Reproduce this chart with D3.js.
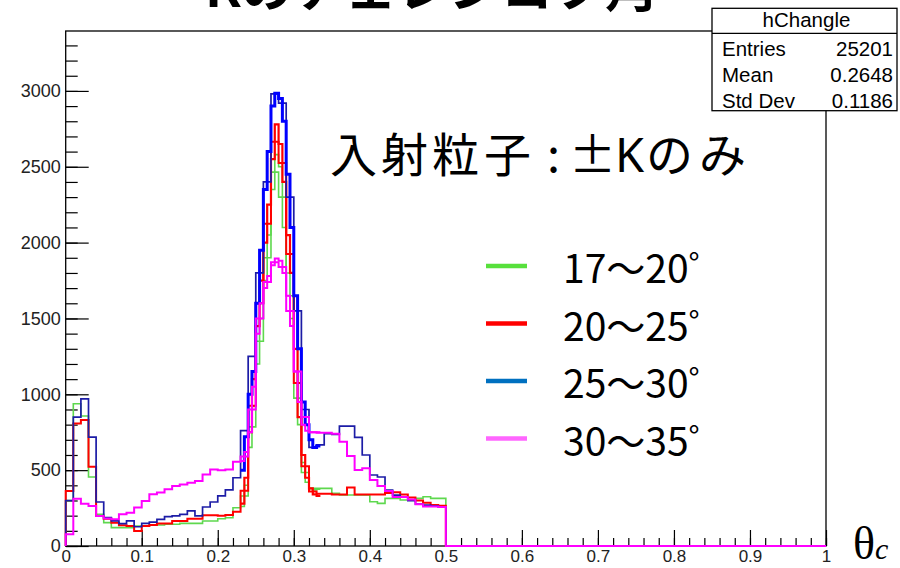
<!DOCTYPE html>
<html><head><meta charset="utf-8">
<script src="https://cdn.jsdelivr.net/npm/d3@7"></script>
<style>html,body{margin:0;padding:0;background:#fff;} svg{display:block}</style>
</head><body>
<svg id="c" width="900" height="568"></svg>
<script>
// ---------------- data ----------------
const xMax = 1;
const yMax = 3395;
const xTickLabels = [0, 0.1, 0.2, 0.3, 0.4, 0.5, 0.6, 0.7, 0.8, 0.9, 1];
const yTickLabels = [0, 500, 1000, 1500, 2000, 2500, 3000];

// coarse histograms: bins of width 0.01 starting at 0 (bins 0.50-1.00 are empty)
const coarseBinWidth = 0.01;
const green17_20 = [300, 938, 857, 455, 209, 154, 121, 121, 121, 132,
  132, 138, 138, 143, 143, 149, 149, 149, 165, 165,
  180, 186, 252, 330, 785, 1350, 1900, 2465, 2300, 1650,
  975, 485, 380, 380, 380, 347, 336, 336, 336, 336,
  292, 281, 314, 314, 303, 303, 314, 325, 314, 314];
const red20_25 = [362, 808, 830, 523, 198, 180, 154, 136, 132, 99,
  132, 138, 149, 149, 165, 165, 180, 180, 202, 202,
  200, 205, 225, 365, 925, 1600, 2125, 2665, 2525, 1925,
  1075, 525, 360, 345, 345, 340, 340, 385, 340, 340,
  340, 340, 350, 355, 340, 320, 300, 285, 270, 265];
const navy25_30 = [300, 850, 970, 718, 290, 187, 165, 147, 165, 127,
  149, 158, 176, 193, 198, 209, 231, 198, 257, 290,
  330, 370, 450, 760, 1250, 1800, 2400, 2980, 2920, 2300,
  1550, 900, 650, 666, 740, 735, 790, 790, 716, 600,
  468, 455, 369, 336, 323, 299, 277, 270, 264, 257];
const magenta30_35 = [77, 312, 279, 264, 198, 182, 176, 209, 220, 253,
  297, 341, 352, 374, 395, 406, 417, 428, 472, 505,
  500, 505, 556, 590, 900, 1500, 1740, 1870, 1840, 1550,
  1150, 850, 750, 747, 747, 740, 688, 593, 501, 512,
  435, 395, 362, 323, 323, 306, 275, 260, 260, 257];

// fine overlays in the peak region: bins of width 0.005 starting at 0.23
const fineStart = 0.23, fineBinWidth = 0.005;
const greenFine = [260, 400, 650, 920, 1200, 1500, 1750, 2050, 2350, 2580, 2500,
  2100, 1800, 1500, 1150, 800, 550, 420, 380, 370, 375];
const redFine = [280, 450, 750, 1100, 1450, 1750, 2000, 2250, 2550, 2780, 2650,
  2400, 2050, 1800, 1300, 850, 600, 450, 380, 340, 330];
const blueFine = [500, 720, 1000, 1150, 1600, 1950, 2350, 2600, 2900, 2985, 2950,
  2800, 2450, 2100, 1650, 1300, 950, 800, 700, 650, 660];
const magentaFine = [560, 620, 750, 1050, 1400, 1600, 1700, 1780, 1850, 1895, 1880,
  1800, 1650, 1450, 1150, 950, 800, 760, 750, 750, 750];

const legendLabels = ["17〜20", "20〜25", "25〜30", "30〜35"];
const legendColors = ["#57e03c", "#ff0000", "#0070c0", "#ff66ff"];

const statsName = "hChangle";
const statsRows = [["Entries", "25201"], ["Mean", "0.2648"], ["Std Dev", "0.1186"]];

const titleText = "Kのチェレンコフ角";
const noteChars = ["入", "射", "粒", "子", ":", "±", "K", "の", "み"];

// ---------------- drawing ----------------
const svg = d3.select("#c");
const frame = {l: 65.7, r: 826, t: 31, b: 546};
const x = d3.scaleLinear().domain([0, xMax]).range([frame.l, frame.r]);
const y = d3.scaleLinear().domain([0, yMax]).range([frame.b, frame.t]);
const rootFont = "'Liberation Sans', Arial, Helvetica, sans-serif";

// title (cut off at top of the slide)
svg.append("text").attr("x", 205).attr("y", 7)
  .attr("font-family", "'Noto Sans CJK JP'").attr("font-size", 52).attr("font-weight", 700)
  .attr("fill", "#000").text(titleText);

// frame
svg.append("rect").attr("x", frame.l).attr("y", frame.t)
  .attr("width", frame.r - frame.l).attr("height", frame.b - frame.t)
  .attr("fill", "none").attr("stroke", "#000").attr("stroke-width", 1.3);

// y axis
const yMinorTicks = d3.range(0, 3400, 100);
const gyMinor = svg.append("g").attr("transform", `translate(${frame.l},0)`)
  .call(d3.axisLeft(y).tickValues(yMinorTicks).tickSize(-12).tickFormat(""));
const gy = svg.append("g").attr("transform", `translate(${frame.l},0)`)
  .call(d3.axisLeft(y).tickValues(yTickLabels).tickSize(-23).tickPadding(5).tickFormat(d => String(d)));
// x axis
const xMinorTicks = d3.range(0, 1.0001, 0.02);
const gxMinor = svg.append("g").attr("transform", `translate(0,${frame.b})`)
  .call(d3.axisBottom(x).tickValues(xMinorTicks).tickSize(-8).tickFormat(""));
const gx = svg.append("g").attr("transform", `translate(0,${frame.b})`)
  .call(d3.axisBottom(x).tickValues(xTickLabels).tickSize(-16).tickPadding(4).tickFormat(d => String(d)));
[gyMinor, gy, gxMinor, gx].forEach(g => {
  g.select(".domain").remove();
  g.selectAll(".tick line").attr("stroke", "#000").attr("stroke-width", 1.2);
  g.selectAll("text").attr("font-family", rootFont).attr("font-size", 18).attr("fill", "#222");
});
gx.selectAll("text").attr("font-size", 17);

// histograms
const line = d3.line().x(d => x(d[0])).y(d => y(d[1]));
function coarsePts(vals) {
  const pts = [[0, 0]];
  vals.forEach((v, i) => { pts.push([i * coarseBinWidth, v]); pts.push([(i + 1) * coarseBinWidth, v]); });
  pts.push([vals.length * coarseBinWidth, 0]);
  pts.push([xMax, 0]);
  return pts;
}
function finePts(vals) {
  const pts = [];
  vals.forEach((v, i) => { pts.push([fineStart + i * fineBinWidth, v]); pts.push([fineStart + (i + 1) * fineBinWidth, v]); });
  return pts;
}
const hists = [
  {pts: coarsePts(green17_20), c: "#5ed84e", w: 1.6},
  {pts: finePts(greenFine), c: "#5ed84e", w: 1.6},
  {pts: coarsePts(red20_25), c: "#ff0000", w: 2},
  {pts: finePts(redFine), c: "#ff0000", w: 2.2},
  {pts: coarsePts(navy25_30), c: "#1c1ca6", w: 1.7},
  {pts: finePts(blueFine), c: "#0000ff", w: 3},
  {pts: finePts(magentaFine), c: "#ff00ff", w: 2},
  {pts: coarsePts(magenta30_35), c: "#ff00ff", w: 2}
];
svg.append("g").selectAll("path").data(hists).join("path")
  .attr("d", d => line(d.pts)).attr("fill", "none")
  .attr("stroke", d => d.c).attr("stroke-width", d => d.w)
  .attr("stroke-linejoin", "miter");

// stats box
const sb = {l: 712, r: 897, t: 8.3, h: 33.3, b: 110.7};
const gs = svg.append("g");
gs.append("rect").attr("x", sb.l).attr("y", sb.t).attr("width", sb.r - sb.l).attr("height", sb.b - sb.t)
  .attr("fill", "#fff").attr("stroke", "#000").attr("stroke-width", 1.3);
gs.append("line").attr("x1", sb.l).attr("x2", sb.r).attr("y1", sb.h).attr("y2", sb.h)
  .attr("stroke", "#000").attr("stroke-width", 1.2);
gs.append("text").attr("x", (sb.l + sb.r) / 2 + 2).attr("y", 27).attr("text-anchor", "middle")
  .attr("font-family", rootFont).attr("font-size", 20.5).text(statsName);
statsRows.forEach((r, i) => {
  const yy = 56 + i * 26;
  gs.append("text").attr("x", 722).attr("y", yy).attr("font-family", rootFont).attr("font-size", 20.5).text(r[0]);
  gs.append("text").attr("x", 893).attr("y", yy).attr("text-anchor", "end").attr("font-family", rootFont).attr("font-size", 20.5).text(r[1]);
});

// annotation (characters placed as on the slide)
const noteX = [330, 381, 432, 484, 547, 569, 615, 646, 699];
const note = svg.append("text").attr("y", 172)
  .attr("font-family", "'Noto Sans CJK JP'").attr("font-size", 47).attr("fill", "#000");
noteChars.forEach((ch, i) => {
  const t = note.append("tspan").attr("x", noteX[i]).text(ch);
  if (ch === "K") t.attr("font-family", "'Noto Sans', sans-serif");
});

// legend
const gl = svg.append("g");
legendLabels.forEach((lab, i) => {
  const yy = 266 + i * 57.5;
  gl.append("line").attr("x1", 486).attr("x2", 527).attr("y1", yy).attr("y2", yy)
    .attr("stroke", legendColors[i]).attr("stroke-width", 4.5);
  const t = gl.append("text").attr("x", 563).attr("y", yy + 17)
    .attr("font-family", "'Noto Sans CJK JP'").attr("font-size", 39).attr("fill", "#000");
  t.append("tspan").text(lab);
  t.append("tspan").attr("dy", -8).attr("font-size", 30).text("°");
});

// axis title θc
const ax = svg.append("text").attr("x", 853).attr("y", 559)
  .attr("font-family", "'Liberation Serif', serif").attr("font-size", 46);
ax.append("tspan").text("θ");
ax.append("tspan").attr("font-style", "italic").attr("font-size", 30).text("c");
</script>
</body></html>
